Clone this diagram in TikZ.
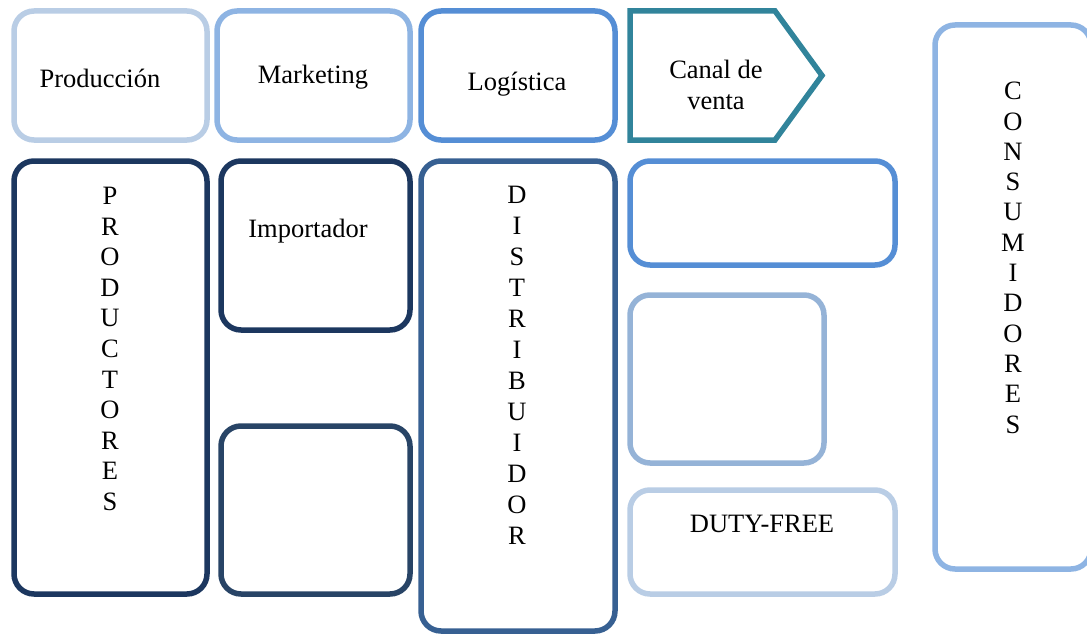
\documentclass[tikz,border=0pt]{standalone}
\usepackage{fontspec}
\setmainfont{Liberation Serif}
\definecolor{cA}{HTML}{B9CDE5}
\definecolor{cB}{HTML}{8EB4E3}
\definecolor{cC}{HTML}{558ED5}
\definecolor{cTeal}{HTML}{31849B}
\definecolor{cNavy}{HTML}{1C375F}
\definecolor{cNavyB}{HTML}{284466}
\definecolor{cMid}{HTML}{376092}
\definecolor{cSoft}{HTML}{95B3D7}
\begin{document}
\begin{tikzpicture}[x=1pt,y=-1pt,
  box/.style={draw=#1, line width=5.5pt, rounded corners=20pt, rectangle, inner sep=0pt, fill=none},
  lbl/.style={inner sep=0pt, anchor=base, font=\fontsize{26.5}{32}\selectfont},
  vlbl/.style={inner sep=0pt, anchor=north, align=center, font=\fontsize{26.5}{#1}\selectfont}]
\useasboundingbox (0,0) rectangle (1087,634);
% top row
\node[box=cA, minimum width=193pt, minimum height=129pt] (prodh) at (110.5,75.5) {};
\node[box=cB, minimum width=193pt, minimum height=129pt] (mkt) at (313.5,75.5) {};
\node[box=cC, minimum width=194pt, minimum height=129pt] (logi) at (518,75.5) {};
\coordinate (ca1) at (630,11);
\coordinate (ca2) at (775,11);
\coordinate (ca3) at (822,75.5);
\coordinate (ca4) at (775,140);
\coordinate (ca5) at (630,140);
\draw[cTeal, line width=5.5pt, line join=miter] (ca1) -- (ca2) -- (ca3) -- (ca4) -- (ca5) -- cycle;
% body
\node[box=cNavy, minimum width=193pt, minimum height=433pt] (prods) at (110.5,377.5) {};
\node[box=cNavy, minimum width=189pt, minimum height=169pt] (imp) at (315.5,245.5) {};
\node[box=cNavyB, minimum width=189pt, minimum height=168pt] (low) at (315.5,510) {};
\node[box=cMid, minimum width=194pt, minimum height=470pt] (dist) at (518,396) {};
\node[box=cC, minimum width=265pt, minimum height=104pt] (r1) at (762.5,213) {};
\node[box=cSoft, minimum width=194pt, minimum height=168pt] (r2) at (727,379) {};
\node[box=cA, minimum width=265pt, minimum height=104pt] (duty) at (762.5,542) {};
\node[box=cB, minimum width=156pt, minimum height=544pt] (cons) at (1013,297) {};
% labels
\node[lbl] (tprod) at (100,88) {Producción};
\node[lbl] (tmkt) at (313,83) {Marketing};
\node[lbl] (tlog) at (517,90) {Logística};
\node[lbl] (tcan1) at (716,78) {Canal de};
\node[lbl] (tcan2) at (716,110) {venta};
\node[lbl] (timp) at (308,237) {Importador};
\node[lbl] (tduty) at (762,532) {DUTY-FREE};
\node[vlbl=30.6] (tprods) at (110,187) {P\\R\\O\\D\\U\\C\\T\\O\\R\\E\\S};
\node[vlbl=31.0] (tdist) at (517,186) {D\\I\\S\\T\\R\\I\\B\\U\\I\\D\\O\\R};
\node[vlbl=30.3] (tcons) at (1013,82) {C\\O\\N\\S\\U\\M\\I\\D\\O\\R\\E\\S};
\end{tikzpicture}
\end{document}
